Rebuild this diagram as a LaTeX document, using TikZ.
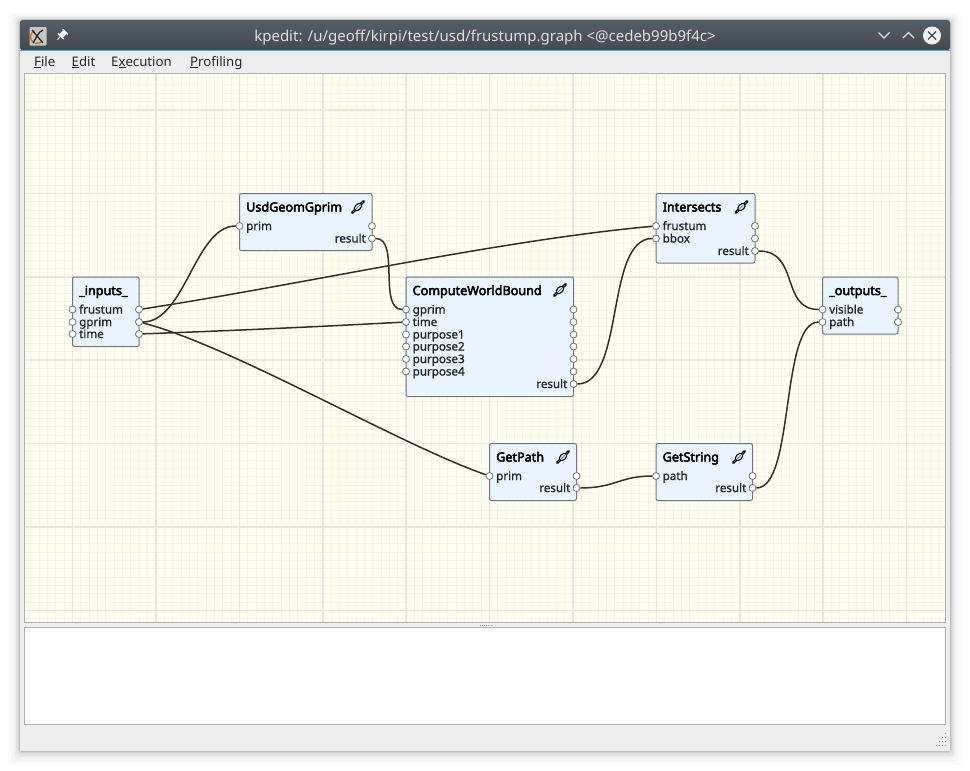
\documentclass[tikz,border=0pt]{standalone}
\usepackage{fontspec}
\setmainfont{Noto Sans}
\newfontfamily\uibold[FakeBold=3.6]{Noto Sans}
\newfontfamily\uimedium[FakeBold=1]{Noto Sans}
\usepackage{tikz}
\definecolor{Canvas}{RGB}{255,255,240}
\definecolor{GridMinor}{RGB}{243,243,236}
\definecolor{GridMajor}{RGB}{230,230,226}
\definecolor{Panel}{RGB}{238,238,238}
\definecolor{Box}{RGB}{233,244,255}
\definecolor{BoxLine}{RGB}{112,116,118}
\definecolor{Wire}{RGB}{48,48,42}
\definecolor{TitleTop}{RGB}{84,92,101}
\definecolor{TitleBot}{RGB}{66,73,80}
\definecolor{Accent}{RGB}{61,174,233}
\definecolor{Ink}{RGB}{35,38,41}
\tikzset{
  gnode/.style={draw=BoxLine,fill=Box,line width=1pt,rounded corners=2pt,inner sep=0pt},
  port/.style={circle,draw=BoxLine,fill=white,line width=.8pt,minimum size=7pt,inner sep=0pt},
  wire/.style={draw=Wire,line width=1.5pt},
  portlabel/.style={font=\fontsize{11.6}{12}\uimedium,text=Ink,inner sep=0pt},
  menulabel/.style={font=\fontsize{13.2}{13}\selectfont,text=Ink,anchor=base west,inner sep=0pt},
  titlelabel/.style={font=\fontsize{12.6}{12.6}\uibold,text=black,anchor=base west,inner sep=0pt}
}
% box: name, left, top, right, bottom, title
\newcommand{\gbox}[6]{
  \node[gnode,minimum width=#4pt-#2pt,minimum height=#5pt-#3pt] (#1) at ({(#2+#4)/2},{(#3+#5)/2}) {};
  \node[titlelabel] (#1title) at (#2+6.5,#3+18) {#6};
}
% input port with its label: name, x, y, text
\newcommand{\inport}[4]{
  \node[port] (#1) at (#2,#3) {};
  \node[portlabel,anchor=base west] (#1text) at (#2+6.5,#3+4) {#4};
}
\newcommand{\outport}[4]{
  \node[port] (#1) at (#2,#3) {};
  \node[portlabel,anchor=base east] (#1text) at (#2-6,#3+4) {#4};
}
\newcommand{\blankport}[3]{\node[port] (#1) at (#2,#3) {};}
% the little linked icon in a box
\newcommand{\linkicon}[2]{
  \begin{scope}[shift={(#1,#2)},rotate=45]
    \draw[black,line width=2.6pt,line cap=round] (-8,0)--(8,0);
    \draw[Accent!80!black,line width=1pt] (-6.5,0)--(6.5,0);
    \draw[black,line width=1.1pt,fill=Box] (0,0) ellipse (4.4pt and 2.8pt);
    \draw[Accent!80!black,line width=.9pt] (-2.6,0)--(2.6,0);
  \end{scope}
}
\begin{document}
\begin{tikzpicture}[x=1pt,y=-1pt]
\useasboundingbox (0,0) rectangle (970,771);
\fill[white] (0,0) rectangle (970,771);
% shadow
\foreach \d/\o in {12/.015,9/.02,6/.03,4/.04,2/.07,1/.1}{
  \fill[black,opacity=\o,rounded corners=4pt] (20-\d,20-\d*.6) rectangle (950+\d,751+\d*1.2);
}
% window
\fill[Panel] (20,48) rectangle (950,751);
\path[top color=TitleTop,bottom color=TitleBot,rounded corners=3pt] (20,20) -- (950,20) -- (950,50.5) -- (20,50.5) -- cycle;
\fill[Accent] (20,50) rectangle (950,51);
\node[font=\fontsize{15}{15}\selectfont,text=white!88!black,inner sep=0pt] (wintitle) at (485,37.5) {kpedit: /u/geoff/kirpi/test/usd/frustump.graph <@cedeb99b9f4c>};
% window icon and pin
\fill[white!78!black,rounded corners=1pt] (29.5,27) rectangle (46.5,45.5);
\draw[orange!85!black,line width=1.2pt] (42,41) arc (-40:-250:6.5pt);
\draw[black!85,line width=1.3pt] (32,30) -- (43,43) (33,43) .. controls (37,37) and (38,32) .. (43,30);
\begin{scope}[shift={(62,35)},rotate=-45]
  \fill[white] (-2.4,-4.5) rectangle (2.4,1.5);
  \fill[white] (-3.6,-5.2) rectangle (3.6,-3.8) (-4,1) rectangle (4,2.4);
  \draw[white,line width=1pt] (0,2) -- (0,6.5);
\end{scope}
% window buttons
\draw[white!88!black,line width=1.1pt] (878.5,32.5) -- (884,38) -- (889.5,32.5);
\draw[white!88!black,line width=1.1pt] (903,38) -- (908.5,32.5) -- (914,38);
\fill[white!94!black] (932,35.5) circle (9pt);
\draw[TitleBot,line width=1.3pt] (928,31.5) -- (936,39.5) (936,31.5) -- (928,39.5);
% menu
\node[menulabel] (menufile) at (34,66) {\underline{F}ile};
\node[menulabel] (menuedit) at (71.5,66) {\underline{E}dit};
\node[menulabel] (menuexec) at (111,66) {E\underline{x}ecution};
\node[menulabel] (menuprof) at (190,66) {\underline{P}rofiling};
% canvas
\fill[Canvas] (24.5,73.5) rectangle (945.5,622);
\begin{scope}
  \clip (24.5,73.5) rectangle (945.5,622);
  \foreach \i in {-5,...,106}{
    \draw[GridMinor,line width=1pt] ({72.6+\i*8.34},73) -- ({72.6+\i*8.34},622);
  }
  \foreach \i in {-5,...,61}{
    \draw[GridMinor,line width=1pt] (24,{110+\i*8.34}) -- (946,{110+\i*8.34});
  }
  \foreach \i in {-1,...,10}{
    \draw[GridMajor,line width=1.6pt] ({72.6+\i*83.4},73) -- ({72.6+\i*83.4},622);
  }
  \foreach \i in {0,...,6}{
    \draw[GridMajor,line width=1.6pt] (24,{110+\i*83.4}) -- (946,{110+\i*83.4});
  }
\end{scope}
\draw[black!30,line width=1pt] (24.5,73.5) rectangle (945.5,622);
% bottom pane
\fill[white] (24.5,627) rectangle (945.5,724.5);
\draw[black!30,line width=1pt] (24.5,627) rectangle (945.5,724.5);
\foreach \i in {0,...,5}{\fill[black!45] ({479.5+\i*2.2},624.5) rectangle ++(.8,1.2);}
\foreach \x/\y in {945/733,945/737,942/737,945/741,942/741,939/741,945/745,942/745,939/745,936/745}{
  \fill[black!45] (\x,\y) rectangle ++(1,1);
}
% graph boxes
\gbox{inputs}{72.5}{277}{139}{346.5}{\_inputs\_}
\gbox{gprimbox}{239.5}{193.5}{372}{250.5}{UsdGeomGprim}
\gbox{bound}{406}{277}{573.5}{396.5}{ComputeWorldBound}
\gbox{hits}{656}{193.5}{755}{263}{Intersects}
\gbox{outputs}{822.5}{277}{898}{334}{\_outputs\_}
\gbox{getpath}{489.5}{443.5}{576.5}{500.5}{GetPath}
\gbox{getstring}{656}{443.5}{752.5}{500.5}{GetString}
\linkicon{358}{207}
\linkicon{560}{290}
\linkicon{741.5}{207}
\linkicon{563}{457}
\linkicon{739}{457}
% ports
\inport{infrustum}{72.5}{309.5}{frustum}
\inport{ingprim}{72.5}{322}{gprim}
\inport{intime}{72.5}{334}{time}
\blankport{outfrustum}{139}{309.5}
\blankport{outgprim}{139}{322}
\blankport{outtime}{139}{334}
\inport{gpprim}{239.5}{226}{prim}
\blankport{gpnone}{372}{226}
\outport{gpresult}{372}{238.5}{result}
\inport{cwgprim}{406}{309.5}{gprim}
\inport{cwtime}{406}{322}{time}
\inport{cwa}{406}{334.5}{purpose1}
\inport{cwb}{406}{346.5}{purpose2}
\inport{cwc}{406}{359}{purpose3}
\inport{cwd}{406}{371.5}{purpose4}
\blankport{cwoa}{573.5}{309.5}
\blankport{cwob}{573.5}{322}
\blankport{cwoc}{573.5}{334.5}
\blankport{cwod}{573.5}{346.5}
\blankport{cwoe}{573.5}{359}
\blankport{cwof}{573.5}{371.5}
\outport{cwresult}{573.5}{384}{result}
\inport{hitfrustum}{656}{226}{frustum}
\inport{hitbbox}{656}{238.5}{bbox}
\blankport{hitoa}{755}{226}
\blankport{hitob}{755}{238.5}
\outport{hitresult}{755}{251}{result}
\inport{outvisible}{822.5}{309.5}{visible}
\inport{outpath}{822.5}{322}{path}
\blankport{outoa}{898}{309.5}
\blankport{outob}{898}{322}
\inport{pathprim}{489.5}{476}{prim}
\blankport{pathnone}{576.5}{476}
\outport{pathresult}{576.5}{488}{result}
\inport{strpath}{656}{476}{path}
\blankport{strnone}{752.5}{476}
\outport{strresult}{752.5}{488}{result}
% wires
\draw[wire] (outfrustum) .. controls +(161,-24.5) and +(-156,14) .. (hitfrustum);
\draw[wire] (outgprim) .. controls +(46,0) and +(-44.5,0) .. (gpprim);
\draw[wire] (outgprim) .. controls +(91,23) and +(-89.5,-31) .. (pathprim);
\draw[wire] (outtime) .. controls +(111,-4) and +(-76,4) .. (cwtime);
\draw[wire] (gpresult) .. controls +(28,0) and +(-28,0) .. (cwgprim);
\draw[wire] (cwresult) .. controls +(51.5,0) and +(-51,0) .. (hitbbox);
\draw[wire] (hitresult) .. controls +(45,0) and +(-42.5,0) .. (outvisible);
\draw[wire] (pathresult) .. controls +(38.5,0) and +(-36,0) .. (strpath);
\draw[wire] (strresult) .. controls +(42.5,0) and +(-42.5,0) .. (outpath);
\end{tikzpicture}
\end{document}
